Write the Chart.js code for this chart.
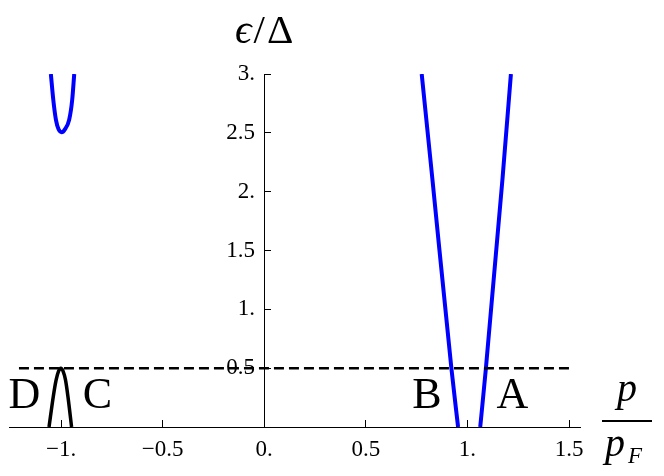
<!DOCTYPE html>
<html>
<head>
<meta charset="utf-8">
<script src="https://cdn.jsdelivr.net/npm/chart.js@4.4.1/dist/chart.umd.min.js"></script>
<style>
  html, body { margin: 0; padding: 0; background: #fff; }
  #wrap { width: 664px; height: 476px; }
</style>
</head>
<body>
<div id="wrap"><canvas id="chart" width="664" height="476"></canvas></div>
<script>
// axis ticks
const xTicks = [-1, -0.5, 0, 0.5, 1, 1.5];
const xTickLabels = ['\u22121.', '\u22120.5', '0.', '0.5', '1.', '1.5'];
const yTicks = [0, 0.5, 1, 1.5, 2, 2.5, 3];
const yTickLabels = ['', '0.5', '1.', '1.5', '2.', '2.5', '3.'];

// blue branch near p = -1 (gap 2.5)
const vP = [-1.050, -1.038, -1.025, -1.012, -0.997, -0.981, -0.960, -0.945, -0.935];
const vE = [3.0, 2.78, 2.61, 2.53, 2.505, 2.53, 2.61, 2.78, 3.0];
// blue branches near p = 1
const bP1 = [0.775, 0.827, 0.921, 0.954];
const bE1 = [3.0, 2.117, 0.5, 0];
const bP2 = [1.063, 1.091, 1.173, 1.214];
const bE2 = [0, 0.5, 2.117, 3.0];
// black hump near p = -1
const hP = [-1.059, -1.038, -1.024, -1.012, -1.001, -0.990, -0.978, -0.966, -0.948];
const hE = [0, 0.26, 0.40, 0.475, 0.50, 0.475, 0.40, 0.26, 0];
// dashed level
const dashP = [-1.207, 1.509];
const dashE = [0.5, 0.5];

// point labels
const annotText = ['D', 'C', 'B', 'A'];
const annotP = [-1.180, -0.821, 0.801, 1.221];
const annotE = [0.26, 0.26, 0.26, 0.26];

const pts = (xs, ys) => xs.map((x, i) => ({ x: x, y: ys[i] }));
const SERIF = '"Liberation Serif", "DejaVu Serif", serif';

const labelsPlugin = {
  id: 'labels',
  afterDraw(chart) {
    const ctx = chart.ctx;
    const sx = chart.scales.x, sy = chart.scales.y;
    const area = chart.chartArea;
    ctx.save();
    ctx.fillStyle = '#000';
    // letters on the plot
    ctx.font = '44px ' + SERIF;
    ctx.textAlign = 'center';
    ctx.textBaseline = 'middle';
    annotText.forEach((t, i) => {
      ctx.fillText(t, sx.getPixelForValue(annotP[i]), sy.getPixelForValue(annotE[i]));
    });

    // y title  eps / Delta
    ctx.textBaseline = 'alphabetic';
    ctx.textAlign = 'left';
    const fItal = 'italic 41px ' + SERIF;
    const fUp = '41px ' + SERIF;
    ctx.font = fItal; const w1 = ctx.measureText('\u03f5').width;
    ctx.font = fUp; const w2 = ctx.measureText('/').width; const w3 = ctx.measureText('\u0394').width;
    let tx = sx.getPixelForValue(0) - (w1 + w2 + w3 + 4) / 2;
    const ty = area.top - 31;
    ctx.font = fItal; ctx.fillText('\u03f5', tx, ty); tx += w1 + 2;
    ctx.font = fUp; ctx.fillText('/', tx, ty); tx += w2 + 2;
    ctx.fillText('\u0394', tx, ty);

    // x title  p / p_F
    const cx = area.right + 47;
    ctx.textAlign = 'center';
    ctx.font = 'italic 40px ' + SERIF;
    ctx.fillText('p', cx, area.bottom - 26);
    ctx.fillRect(area.right + 22, area.bottom - 7, 50, 2);
    ctx.textAlign = 'left';
    ctx.fillText('p', area.right + 25, area.bottom + 29);
    ctx.font = 'italic 23px ' + SERIF;
    ctx.fillText('F', area.right + 48, area.bottom + 36);
    ctx.restore();
  }
};

const lineDs = (data, color, width, extra) => Object.assign({
  data: data,
  showLine: true,
  borderColor: color,
  backgroundColor: color,
  borderWidth: width,
  pointRadius: 0,
  fill: false
}, extra || {});

new Chart(document.getElementById('chart'), {
  type: 'scatter',
  data: {
    datasets: [
      lineDs(pts(dashP, dashE), '#000', 2.5, { borderDash: [10, 5] }),
      lineDs(pts(vP, vE), '#0000ff', 4, { cubicInterpolationMode: 'monotone' }),
      lineDs(pts(bP1, bE1), '#0000ff', 4, { cubicInterpolationMode: 'monotone' }),
      lineDs(pts(bP2, bE2), '#0000ff', 4, { cubicInterpolationMode: 'monotone' }),
      lineDs(pts(hP, hE), '#000', 3.5, { cubicInterpolationMode: 'monotone' })
    ]
  },
  options: {
    responsive: false,
    animation: false,
    layout: { padding: { left: 9, right: 84, top: 74, bottom: 0 } },
    plugins: { legend: { display: false }, tooltip: { enabled: false } },
    scales: {
      x: {
        type: 'linear',
        position: 'bottom',
        min: -1.256,
        max: 1.554,
        afterBuildTicks: (s) => { s.ticks = xTicks.map(v => ({ value: v })); },
        afterFit: (s) => { s.height = 49; },
        ticks: {
          callback: (v, i) => xTickLabels[i],
          color: '#000',
          font: { family: SERIF, size: 23 },
          padding: 16,
          maxRotation: 0,
          autoSkip: false
        },
        grid: { drawOnChartArea: false, drawTicks: true, tickLength: -7, color: '#000', tickWidth: 1 },
        border: { display: true, color: '#000', width: 1 }
      },
      y: {
        type: 'linear',
        position: { x: 0 },
        min: 0,
        max: 3,
        afterBuildTicks: (s) => { s.ticks = yTicks.map(v => ({ value: v })); },
        ticks: {
          // the label sits right on the axis for an object position, so pad with thin spaces
          callback: (v, i) => yTickLabels[i] + '\u2009\u2009',
          color: '#000',
          font: { family: SERIF, size: 23 },
          padding: 9,
          autoSkip: false
        },
        grid: { drawOnChartArea: false, drawTicks: true, tickLength: -7, color: '#000', tickWidth: 1 },
        border: { display: true, color: '#000', width: 1 }
      }
    }
  },
  plugins: [labelsPlugin]
});
</script>
</body>
</html>
